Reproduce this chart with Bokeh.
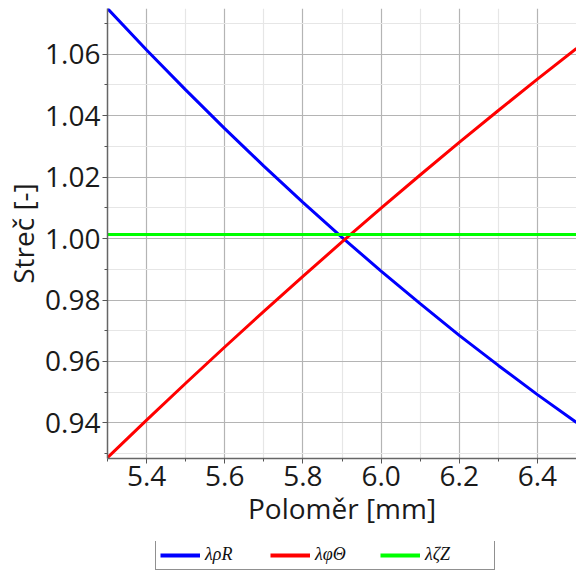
from bokeh.plotting import figure
from bokeh.layouts import column
from bokeh.models import Legend, LegendItem, FixedTicker, Range1d, ColumnDataSource
from bokeh.embed import file_html
from bokeh.resources import INLINE

radius = [5.3, 5.4, 5.5, 5.6, 5.7, 5.8, 5.9, 6.0, 6.1, 6.2, 6.3, 6.4, 6.5]
lam_rhoR = [1.0749, 1.0614, 1.0484, 1.0358, 1.0236, 1.0118, 1.0004, 0.9894, 0.9788, 0.9685, 0.9587, 0.9492, 0.9401]
lam_phiTheta = [0.9287, 0.9409, 0.9529, 0.9647, 0.9763, 0.9877, 0.9989, 1.0099, 1.0207, 1.0313, 1.0417, 1.0519, 1.0619]
lam_zetaZ = [1.0013] * len(radius)
labels = ["λρR", "λφΘ", "λζZ"]
x_title = "Poloměr [mm]"
y_title = "Streč [-]"
x_ticks = [5.4, 5.6, 5.8, 6.0, 6.2, 6.4]
x_minor = [5.3, 5.5, 5.7, 5.9, 6.1, 6.3, 6.5]
y_ticks = [0.94, 0.96, 0.98, 1.00, 1.02, 1.04, 1.06]
y_minor = [0.93, 0.95, 0.97, 0.99, 1.01, 1.03, 1.05, 1.07]
colors = ["#0000ff", "#ff0000", "#00ff00"]

src = ColumnDataSource(dict(r=radius, a=lam_rhoR, b=lam_phiTheta, c=lam_zetaZ))

p = figure(frame_width=469, frame_height=450, output_backend="svg", toolbar_location=None,
           x_range=Range1d(5.3, 6.5), y_range=Range1d(0.9284, 1.0749),
           min_border_left=107, min_border_right=0, min_border_top=8, min_border_bottom=83)
p.outline_line_color = None

font = "Open Sans"
for ax in (p.xaxis[0], p.yaxis[0]):
    ax.major_label_text_font = font
    ax.major_label_text_font_size = "28px"
    ax.axis_label_text_font = font
    ax.axis_label_text_font_size = "28px"
    ax.axis_label_text_font_style = "normal"
    ax.axis_line_color = "#666666"
    ax.axis_line_width = 1.5
    ax.major_tick_line_color = "#555555"
    ax.minor_tick_line_color = "#555555"
    ax.major_tick_out = 5
    ax.major_tick_in = 0
    ax.minor_tick_out = 3
    ax.minor_tick_in = 0
    ax.major_label_text_color = "#1a1a1a"
    ax.axis_label_text_color = "#1a1a1a"

p.yaxis.major_label_standoff = 2
p.xaxis.major_label_standoff = 2
p.xaxis.ticker = FixedTicker(ticks=x_ticks, minor_ticks=x_minor)
p.yaxis.ticker = FixedTicker(ticks=y_ticks, minor_ticks=y_minor)
p.xaxis.major_label_overrides = {v: f"{v:.1f}" for v in x_ticks}
p.yaxis.major_label_overrides = {v: f"{v:.2f}" for v in y_ticks}
p.xaxis.axis_label = x_title
p.yaxis.axis_label = y_title
p.xaxis.axis_label_standoff = 0
p.yaxis.axis_label_standoff = 0

for g in (p.xgrid[0], p.ygrid[0]):
    g.grid_line_color = "#b4b4b4"
    g.grid_line_width = 1.2
    g.minor_grid_line_color = "#e6e6e6"
    g.minor_grid_line_width = 1.2

r1 = p.line("r", "a", source=src, line_color=colors[0], line_width=3)
r2 = p.line("r", "b", source=src, line_color=colors[1], line_width=3)
r3 = p.line("r", "c", source=src, line_color=colors[2], line_width=3)

# legend strip below the chart (its lines lie outside its own view)
lf = figure(width=576, height=30, output_backend="svg", toolbar_location=None,
            x_range=Range1d(0, 1), y_range=Range1d(0, 1),
            min_border=0, outline_line_color=None)
lf.axis.visible = False
lf.grid.visible = False
l1 = lf.line("r", "a", source=src, line_color=colors[0], line_width=4)
l2 = lf.line("r", "b", source=src, line_color=colors[1], line_width=4)
l3 = lf.line("r", "c", source=src, line_color=colors[2], line_width=4)

legend = Legend(items=[LegendItem(label=labels[0], renderers=[l1]),
                       LegendItem(label=labels[1], renderers=[l2]),
                       LegendItem(label=labels[2], renderers=[l3])],
                orientation="horizontal", location=(48, 1),
                border_line_color="#222222", border_line_width=1.5,
                label_text_font="Liberation Serif", label_text_font_style="italic",
                label_text_font_size="18px", label_text_color="#111111",
                glyph_width=40, glyph_height=18,
                label_width=65, label_height=18,
                spacing=0, padding=4, margin=0, label_standoff=5)
lf.add_layout(legend, "center")

open("out.html", "w").write(file_html(column(p, lf, spacing=0), INLINE))
